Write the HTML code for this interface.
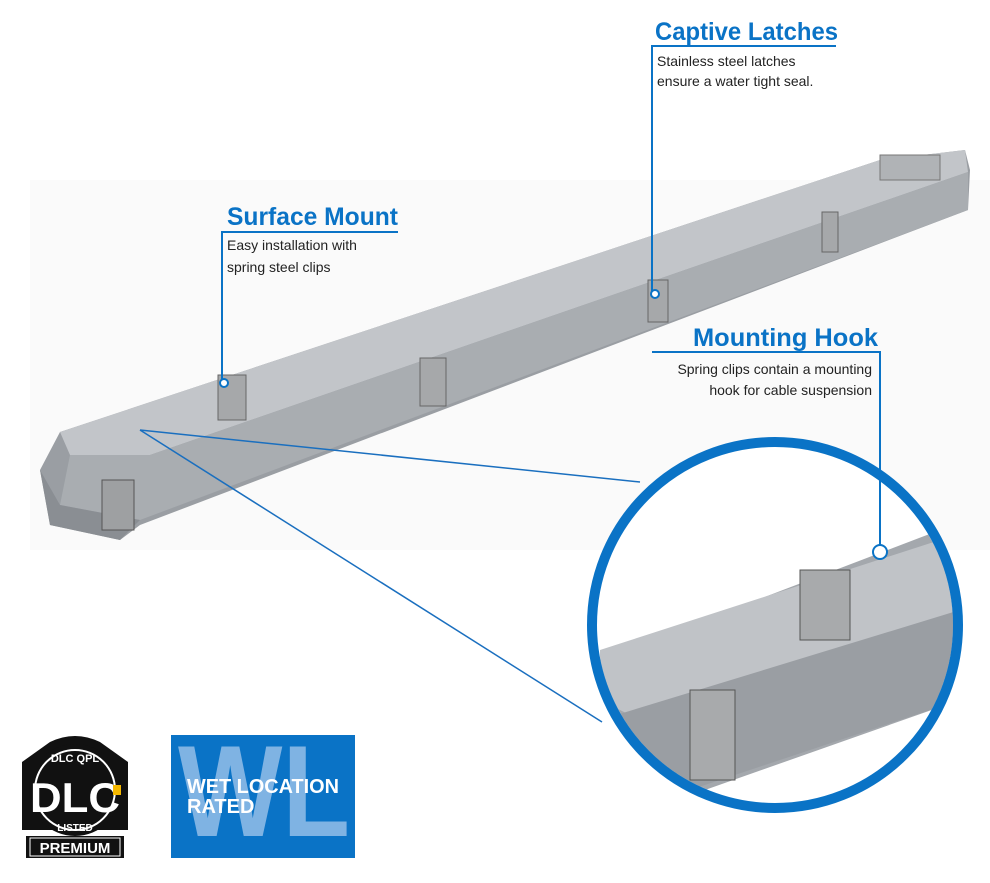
<!DOCTYPE html>
<html><head><style>
body{margin:0;width:990px;height:878px;background:#fff;overflow:hidden;font-family:"Liberation Sans",sans-serif}
</style></head><body>
<svg width="990" height="878" viewBox="0 0 990 878" xmlns="http://www.w3.org/2000/svg">
<defs>
<clipPath id="cc"><circle cx="775" cy="625" r="178"/></clipPath>
</defs>
<rect x="30" y="180" width="960" height="370" fill="#fafafa"/>
<polygon points="60,432 880,160 965,150 970,170 968,210 140,525 120,540 50,525 40,470" fill="#9a9ea3"/>
<polygon points="60,432 880,160 965,150 968,172 150,455 70,455" fill="#c2c5c9"/>
<polygon points="70,455 150,455 968,172 968,210 140,520 60,505" fill="#a9adb1"/>
<polygon points="40,470 60,505 140,520 120,540 50,525" fill="#8a8e93"/>
<rect x="102" y="480" width="32" height="50" fill="#9ea0a2" stroke="#555" stroke-width="1"/>
<rect x="420" y="358" width="26" height="48" fill="#a6a8aa" stroke="#666"/>
<rect x="648" y="280" width="20" height="42" fill="#a6a8aa" stroke="#666"/>
<rect x="822" y="212" width="16" height="40" fill="#a6a8aa" stroke="#666"/>
<rect x="218" y="375" width="28" height="45" fill="#a6a8aa" stroke="#666"/>
<rect x="880" y="155" width="60" height="25" fill="#b0b3b6" stroke="#777"/>
<line x1="140" y1="430" x2="640" y2="482" stroke="#1a6fbf" stroke-width="1.5"/>
<line x1="140" y1="430" x2="602" y2="722" stroke="#1a6fbf" stroke-width="1.5"/>
<circle cx="775" cy="625" r="178" fill="#fff"/>
<g clip-path="url(#cc)">
<polygon points="600,660 940,530 960,560 960,700 620,820 600,800" fill="#a4a8ad"/>
<polygon points="600,650 940,540 960,560 960,610 640,720 600,700" fill="#c0c3c7"/>
<polygon points="600,720 960,610 960,700 600,820" fill="#9a9ea3"/>
<rect x="690" y="690" width="45" height="90" fill="#a8aaac" stroke="#555"/>
<rect x="800" y="570" width="50" height="70" fill="#a8aaac" stroke="#555"/>
</g>
<circle cx="775" cy="625" r="183" fill="none" stroke="#0a73c6" stroke-width="10"/>
<g fill="#0a73c6" font-weight="bold" font-size="25">
<text x="655" y="40" textLength="183" lengthAdjust="spacingAndGlyphs">Captive Latches</text>
<text x="227" y="225" textLength="171" lengthAdjust="spacingAndGlyphs">Surface Mount</text>
<text x="693" y="346" textLength="185" lengthAdjust="spacingAndGlyphs">Mounting Hook</text>
</g>
<g stroke="#0a73c6" stroke-width="2" fill="none">
<polyline points="836,46 652,46 652,292"/>
<polyline points="398,232 222,232 222,380"/>
<polyline points="652,352 880,352 880,548"/>
<circle cx="655" cy="294" r="4" fill="#fff"/>
<circle cx="224" cy="383" r="4" fill="#fff"/>
<circle cx="880" cy="552" r="7" fill="#fff"/>
</g>
<g fill="#222" font-size="14">
<text x="657" y="66">Stainless steel latches</text>
<text x="657" y="86">ensure a water tight seal.</text>
<text x="227" y="250">Easy installation with</text>
<text x="227" y="272">spring steel clips</text>
<text x="872" y="374" text-anchor="end">Spring clips contain a mounting</text>
<text x="872" y="395" text-anchor="end">hook for cable suspension</text>
</g>
<path d="M22,762 L50,742 Q75,730 100,742 L128,762 L128,830 L22,830 Z" fill="#111"/>
<circle cx="75" cy="790" r="46" fill="#111"/>
<circle cx="75" cy="790" r="40" fill="none" stroke="#fff" stroke-width="2"/>
<text x="75" y="762" fill="#fff" font-size="11" font-weight="bold" text-anchor="middle">DLC QPL</text>
<text x="75" y="812" fill="#fff" font-size="42" font-weight="bold" text-anchor="middle" textLength="90" lengthAdjust="spacingAndGlyphs">DLC</text>
<rect x="113" y="785" width="8" height="10" fill="#f5b800"/>
<text x="75" y="831" fill="#fff" font-size="10" font-weight="bold" text-anchor="middle">LISTED</text>
<rect x="26" y="836" width="98" height="22" fill="#111"/>
<rect x="30" y="838" width="90" height="18" fill="none" stroke="#fff" stroke-width="1"/>
<text x="75" y="853" fill="#fff" font-size="15" font-weight="bold" text-anchor="middle">PREMIUM</text>
<rect x="171" y="735" width="184" height="123" fill="#0a73c6"/>
<text x="178" y="836" fill="#7fb3e3" font-size="130" font-weight="bold" textLength="172" lengthAdjust="spacingAndGlyphs">WL</text>
<text x="187" y="793" fill="#fff" font-size="20" font-weight="bold" textLength="152" lengthAdjust="spacingAndGlyphs">WET LOCATION</text>
<text x="187" y="813" fill="#fff" font-size="20" font-weight="bold">RATED</text>
</svg>
</body></html>
